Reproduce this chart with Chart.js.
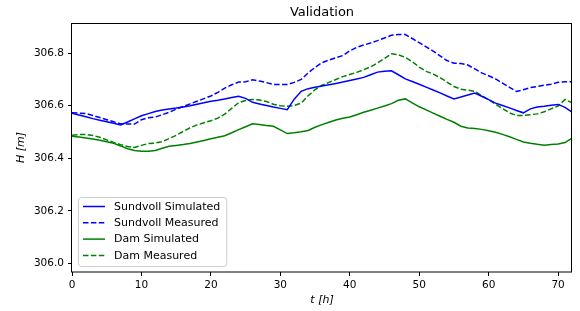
<!DOCTYPE html>
<html>
<head>
<meta charset="utf-8">
<script src="https://cdn.jsdelivr.net/npm/chart.js@4.4.0/dist/chart.umd.min.js"></script>
<style>
  html, body { margin: 0; padding: 0; background: #fff; }
  #wrap { width: 580px; height: 311px; }
</style>
</head>
<body>
<div id="wrap"><canvas id="chart"></canvas></div>
<script>
/* Validation plot — water level H at Sundvoll and the dam, simulated vs measured */

const hours = [0, 1, 2, 3, 4, 5, 6, 7, 8, 9, 10, 11, 12, 13, 14, 15, 16, 17, 18, 19, 20, 21, 22, 23, 24,
  25, 26, 27, 28, 29, 30, 31, 32, 33, 34, 35, 36, 37, 38, 39, 40, 41, 42, 43, 44, 45, 46, 47, 48,
  49, 50, 51, 52, 53, 54, 55, 56, 57, 58, 59, 60, 61, 62, 63, 64, 65, 66, 67, 68, 69, 70, 71, 72];

const sundvollSim = [306.571, 306.565, 306.558, 306.551, 306.545, 306.539, 306.533, 306.527, 306.538, 306.550,
  306.562, 306.570, 306.578, 306.584, 306.588, 306.591, 306.595, 306.600, 306.606, 306.611,
  306.617, 306.621, 306.626, 306.631, 306.636, 306.628, 306.613, 306.607, 306.601, 306.595,
  306.590, 306.585, 306.625, 306.655, 306.665, 306.670, 306.675, 306.680, 306.685, 306.690,
  306.696, 306.702, 306.708, 306.718, 306.728, 306.731, 306.733, 306.718, 306.702, 306.692,
  306.682, 306.671, 306.660, 306.649, 306.637, 306.626, 306.633, 306.641, 306.648, 306.636,
  306.623, 306.610, 306.601, 306.592, 306.582, 306.573, 306.588, 306.595, 306.598, 306.602,
  306.605, 306.594, 306.576];

const sundvollMeas = [306.573, 306.572, 306.570, 306.563, 306.555, 306.547, 306.539, 306.531, 306.530, 306.530,
  306.547, 306.554, 306.557, 306.566, 306.575, 306.587, 306.597, 306.607, 306.617, 306.627,
  306.637, 306.651, 306.667, 306.680, 306.690, 306.691, 306.699, 306.694, 306.688, 306.681,
  306.681, 306.681, 306.689, 306.700, 306.725, 306.746, 306.764, 306.774, 306.783, 306.791,
  306.809, 306.822, 306.831, 306.839, 306.848, 306.858, 306.868, 306.871, 306.871, 306.856,
  306.840, 306.824, 306.808, 306.790, 306.772, 306.762, 306.761, 306.755, 306.740, 306.725,
  306.714, 306.702, 306.686, 306.670, 306.654, 306.661, 306.669, 306.673, 306.678, 306.682,
  306.689, 306.691, 306.691];

const damSim = [306.484, 306.481, 306.477, 306.473, 306.469, 306.463, 306.457, 306.447, 306.436, 306.430,
  306.427, 306.427, 306.430, 306.438, 306.446, 306.449, 306.452, 306.456, 306.462, 306.468,
  306.474, 306.480, 306.486, 306.497, 306.509, 306.520, 306.531, 306.529, 306.525, 306.522,
  306.508, 306.494, 306.497, 306.501, 306.506, 306.518, 306.528, 306.537, 306.546, 306.552,
  306.557, 306.566, 306.575, 306.583, 306.591, 306.599, 306.608, 306.621, 306.626, 306.611,
  306.596, 306.584, 306.572, 306.560, 306.548, 306.537, 306.522, 306.515, 306.513, 306.510,
  306.505, 306.499, 306.491, 306.482, 306.472, 306.462, 306.457, 306.453, 306.450, 306.452,
  306.454, 306.460, 306.477];

const damMeas = [306.488, 306.490, 306.491, 306.487, 306.480, 306.470, 306.460, 306.452, 306.445, 306.441,
  306.449, 306.456, 306.458, 306.463, 306.475, 306.487, 306.502, 306.516, 306.527, 306.535,
  306.543, 306.553, 306.568, 306.590, 306.612, 306.620, 306.624, 306.622, 306.616, 306.606,
  306.600, 306.598, 306.601, 306.610, 306.638, 306.661, 306.678, 306.689, 306.700, 306.711,
  306.719, 306.727, 306.737, 306.748, 306.763, 306.780, 306.798, 306.794, 306.784, 306.768,
  306.747, 306.731, 306.721, 306.707, 306.690, 306.673, 306.663, 306.659, 306.655, 306.638,
  306.623, 306.606, 306.589, 306.573, 306.563, 306.563, 306.566, 306.569, 306.577, 306.588,
  306.599, 306.624, 306.611];

const xTicks = [0, 10, 20, 30, 40, 50, 60, 70];
const yTicks = [306.0, 306.2, 306.4, 306.6, 306.8];

const FONT = "'DejaVu Sans', sans-serif";
const BLUE = "#0000ff";
const GREEN = "#008000";
const DASH = [5.5, 2.4];

function points(values) {
  return hours.map(function (t, i) { return { x: t, y: values[i] }; });
}

function line(label, values, color, dashed) {
  return {
    label: label,
    data: points(values),
    borderColor: color,
    backgroundColor: color,
    borderWidth: 1.5,
    borderDash: dashed ? DASH : [],
    pointRadius: 0,
    tension: 0,
    fill: false,
  };
}

// top/right spines plus a matplotlib-like legend in the lower left
const frameAndLegend = {
  id: "frameAndLegend",
  afterDraw: function (chart) {
    const ctx = chart.ctx;
    const a = chart.chartArea;
    ctx.save();
    ctx.strokeStyle = "#000";
    ctx.lineWidth = 1;
    ctx.strokeRect(Math.round(a.left) - 0.5, Math.round(a.top) + 0.5,
      Math.round(a.right - a.left), Math.round(a.bottom - a.top) - 0.5);

    ctx.font = "11px " + FONT;
    const sets = chart.data.datasets;
    let maxW = 0;
    sets.forEach(function (ds) { maxW = Math.max(maxW, ctx.measureText(ds.label).width); });
    const rowH = 16.3;
    const bx = a.left + 6;
    const bw = 5 + 22 + 9 + maxW + 6;
    const bh = 69;
    const by = a.bottom - 6 - bh;

    ctx.beginPath();
    ctx.roundRect(bx + 0.5, by + 0.5, bw, bh, 3);
    ctx.fillStyle = "rgba(255,255,255,0.8)";
    ctx.fill();
    ctx.strokeStyle = "#cccccc";
    ctx.stroke();

    sets.forEach(function (ds, i) {
      const cy = by + 9.5 + i * rowH;
      ctx.beginPath();
      ctx.setLineDash(ds.borderDash || []);
      ctx.strokeStyle = ds.borderColor;
      ctx.lineWidth = 1.5;
      ctx.moveTo(bx + 5, cy);
      ctx.lineTo(bx + 27, cy);
      ctx.stroke();
      ctx.setLineDash([]);
      ctx.fillStyle = "#000";
      ctx.textBaseline = "middle";
      ctx.textAlign = "left";
      ctx.fillText(ds.label, bx + 36, cy + 0.5);
    });
    ctx.restore();
  }
};

new Chart(document.getElementById("chart"), {
  type: "line",
  data: {
    datasets: [
      line("Sundvoll Simulated", sundvollSim, BLUE, false),
      line("Sundvoll Measured", sundvollMeas, BLUE, true),
      line("Dam Simulated", damSim, GREEN, false),
      line("Dam Measured", damMeas, GREEN, true),
    ]
  },
  plugins: [frameAndLegend],
  options: {
    responsive: true,
    maintainAspectRatio: false,
    animation: false,
    layout: { padding: { left: 0, right: 8, top: 0, bottom: 0 } },
    plugins: {
      legend: { display: false },
      tooltip: { enabled: false },
      title: {
        display: true,
        text: "Validation",
        fullSize: false,
        color: "#000",
        font: { family: FONT, size: 13, weight: "normal", lineHeight: 1.2 },
        padding: { top: 4.5, bottom: 2.9 },
      },
    },
    scales: {
      x: {
        type: "linear",
        min: 0,
        max: 72,
        afterBuildTicks: function (scale) { scale.ticks = xTicks.map(function (v) { return { value: v }; }); },
        afterFit: function (scale) { scale.height = 39; },
        grid: { display: true, drawOnChartArea: false, drawTicks: true, tickLength: 4, color: "#000", lineWidth: 1 },
        border: { display: false },
        ticks: { color: "#000", padding: 3, maxRotation: 0, font: { family: FONT, size: 10.5 },
          callback: function (v) { return String(v); } },
        title: { display: true, text: "t [h]", color: "#000", padding: { top: 0, bottom: 4.5 },
          font: { family: FONT, size: 11, style: "italic", lineHeight: 1.2 } },
      },
      y: {
        type: "linear",
        min: 305.967,
        max: 306.915,
        afterBuildTicks: function (scale) { scale.ticks = yTicks.map(function (v) { return { value: v }; }); },
        afterFit: function (scale) { scale.width = 72; },
        grid: { display: true, drawOnChartArea: false, drawTicks: true, tickLength: 4, color: "#000", lineWidth: 1 },
        border: { display: false },
        ticks: { color: "#000", padding: 4, font: { family: FONT, size: 10.5 },
          callback: function (v) { return v.toFixed(1); } },
        title: { display: true, text: "H [m]", color: "#000", padding: { top: 15, bottom: 0 },
          font: { family: FONT, size: 11, style: "italic", lineHeight: 1.2 } },
      },
    },
  },
});
</script>
</body>
</html>
